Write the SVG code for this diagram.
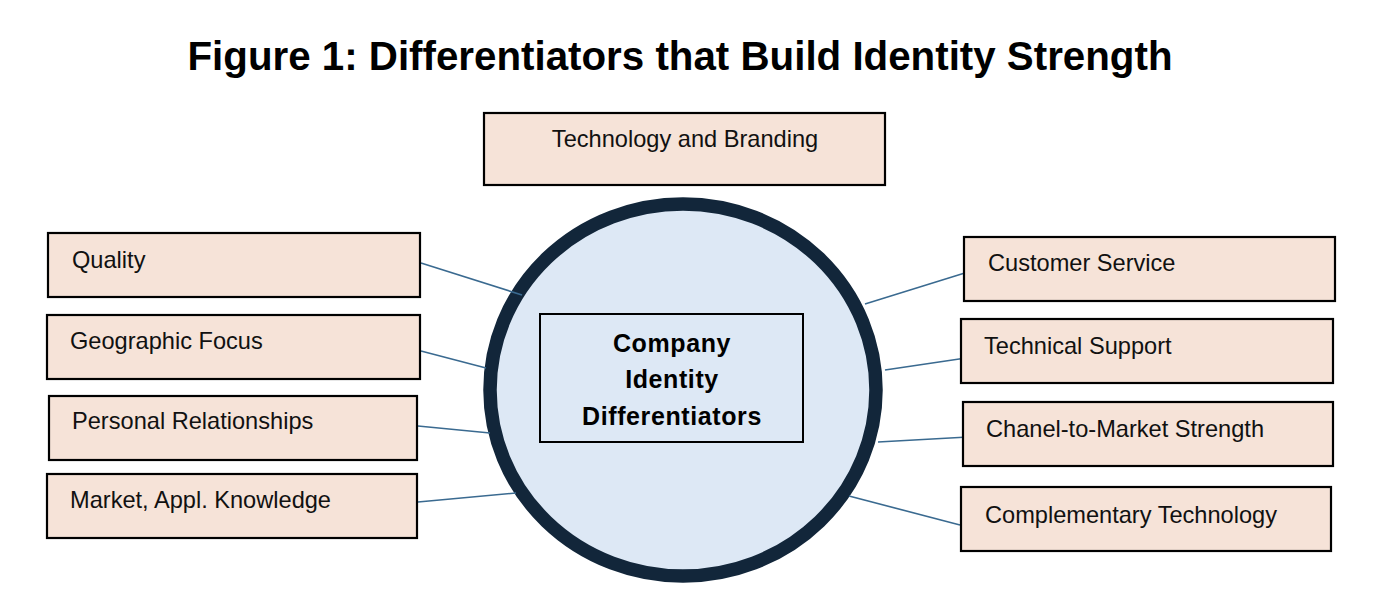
<svg xmlns="http://www.w3.org/2000/svg" width="1380" height="606" viewBox="0 0 1380 606">
<style>
.box{fill:#f6e3d8;stroke:#000;stroke-width:2.2}
.lbl{font-family:"Liberation Sans",Arial,sans-serif;font-size:23.6px;fill:#111}
.ctr{font-family:"Liberation Sans",Arial,sans-serif;font-size:25px;font-weight:bold;fill:#000;text-anchor:middle;letter-spacing:0.6px}
.title{font-family:"Liberation Sans",Arial,sans-serif;font-size:40.3px;font-weight:bold;fill:#000;text-anchor:middle}
.conn{stroke:#3a6a90;stroke-width:1.6;fill:none}
</style>
<rect width="1380" height="606" fill="#fff"/>
<text class="title" x="680" y="70">Figure 1: Differentiators that Build Identity Strength</text>
<g id="hub">
<ellipse cx="683" cy="390" rx="193" ry="186" fill="#dde8f5" stroke="#12263a" stroke-width="13.5"/>
</g>
<g id="connectors">
<line class="conn" x1="421" y1="263" x2="522" y2="295"/>
<line class="conn" x1="421" y1="351" x2="486" y2="368"/>
<line class="conn" x1="418" y1="426" x2="490" y2="433"/>
<line class="conn" x1="418" y1="502" x2="516" y2="493"/>
<line class="conn" x1="968" y1="272" x2="865" y2="304"/>
<line class="conn" x1="966" y1="358" x2="885" y2="370"/>
<line class="conn" x1="968" y1="437" x2="878" y2="442"/>
<line class="conn" x1="960" y1="525" x2="849" y2="496"/>
</g>
<g id="center">
<rect x="540" y="314" width="263" height="128" fill="none" stroke="#000" stroke-width="2"/>
<text class="ctr" x="672" y="352">Company</text>
<text class="ctr" x="672" y="388">Identity</text>
<text class="ctr" x="672" y="425">Differentiators</text>
</g>
<g id="tech-branding">
<rect class="box" x="484" y="113" width="401" height="72"/>
<text class="lbl" x="685" y="147" text-anchor="middle">Technology and Branding</text>
</g>
<g id="quality">
<rect class="box" x="48" y="233" width="372" height="64"/>
<text class="lbl" x="72" y="268">Quality</text>
</g>
<g id="geographic">
<rect class="box" x="47" y="315" width="373" height="64"/>
<text class="lbl" x="70" y="349">Geographic Focus</text>
</g>
<g id="personal">
<rect class="box" x="49" y="396" width="368" height="64"/>
<text class="lbl" x="72" y="429">Personal Relationships</text>
</g>
<g id="market">
<rect class="box" x="47" y="474" width="370" height="64"/>
<text class="lbl" x="70" y="508">Market, Appl. Knowledge</text>
</g>
<g id="customer">
<rect class="box" x="964" y="237" width="371" height="64"/>
<text class="lbl" x="988" y="271">Customer Service</text>
</g>
<g id="technical">
<rect class="box" x="961" y="319" width="372" height="64"/>
<text class="lbl" x="984" y="354">Technical Support</text>
</g>
<g id="chanel">
<rect class="box" x="963" y="402" width="370" height="64"/>
<text class="lbl" x="986" y="437">Chanel-to-Market Strength</text>
</g>
<g id="complementary">
<rect class="box" x="961" y="487" width="370" height="64"/>
<text class="lbl" x="985" y="523">Complementary Technology</text>
</g>
</svg>
